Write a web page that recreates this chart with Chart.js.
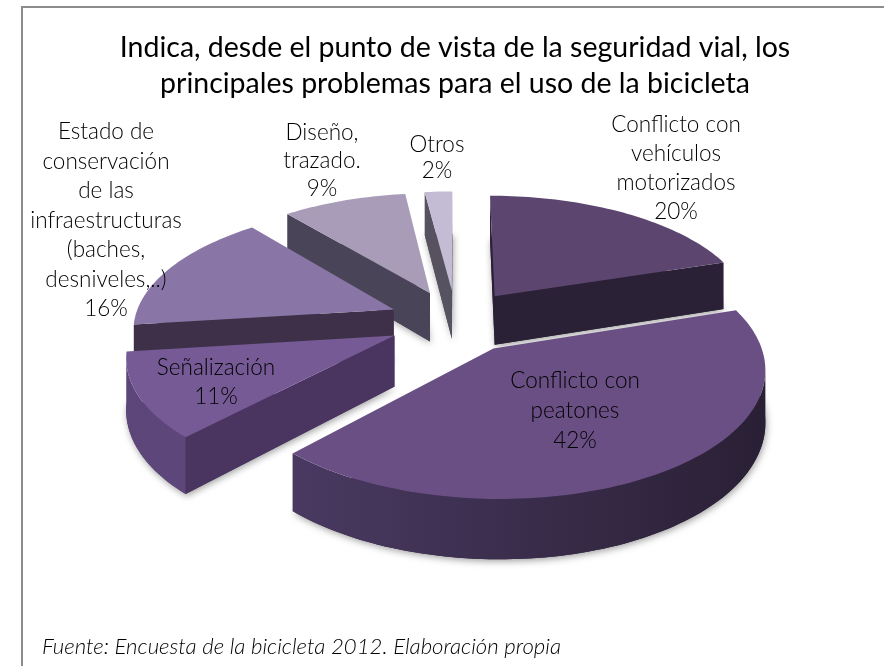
<!DOCTYPE html>
<html lang="es">
<head>
<meta charset="utf-8">
<title>Seguridad vial y bicicleta</title>
<style>
  html, body { margin: 0; padding: 0; background: #fff; }
  canvas { display: block; }
</style>
<script src="https://cdn.jsdelivr.net/npm/chart.js@4"></script>
</head>
<body>
<canvas id="pie" width="884" height="666"></canvas>
<script>
// Survey shares, clockwise from 12 o'clock
const categories = [
  ['Conflicto con', 'vehículos', 'motorizados'],
  ['Conflicto con', 'peatones'],
  ['Señalización'],
  ['Estado de', 'conservación', 'de las', 'infraestructuras', '(baches,', 'desniveles,..)'],
  ['Diseño,', 'trazado.'],
  ['Otros']
];
const values = [20, 42, 11, 16, 9, 2];

const titleLines = [
  'Indica, desde el punto de vista de la seguridad vial, los',
  'principales problemas para el uso de la bicicleta'
];
const sourceNote = 'Fuente: Encuesta de la bicicleta 2012. Elaboración propia';

// Slice colours
const topColors    = ['#5c4670', '#6a4f84', '#755a95', '#8a76a6', '#a89cb8', '#c4bcd4'];
const radialColors = ['#2a2136', '#2c2238', '#4a3560', '#3e3048', '#4a4458', '#57525f'];
const rimLeft      = ['#2a2136', '#4e3d68', '#5c4579', '#6b5a85', '#7a7088', '#8a8494'];
const rimRight     = ['#2a2136', '#2a2035', '#705688', '#6b5a85', '#7a7088', '#8a8494'];

// Label anchors: centre x and the y of the first text line
const labelX     = [676, 575, 216, 106, 322, 437];
const labelY     = [125, 381, 368, 132, 133, 145];
const labelStep  = [29, 30, 29, 29.5, 28, 26];

// Viewing model for the tilted pie
const view = { cx: 456, cy: 321, spreadX: 260, spreadY: 121, perspective: 0.14, depth: 50 };
const EXPLODE_PX = 60;
const LABEL_FONT = '300 22.5px Lato, sans-serif';

function project(wx, wy, level) {
  const d = 1 + view.perspective * wy;
  return {
    x: view.cx + view.spreadX * wx / d,
    y: view.cy - view.spreadY * wy / d + view.depth * level / d
  };
}

function fillPoly(ctx, pts, color) {
  ctx.beginPath();
  pts.forEach((p, i) => i ? ctx.lineTo(p.x, p.y) : ctx.moveTo(p.x, p.y));
  ctx.closePath();
  ctx.fillStyle = color;
  ctx.fill();
}

// A side wall shows when it hangs below its top edge, away from the slice interior
function hangsOutward(a, b, inside) {
  const ex = b.x - a.x, ey = b.y - a.y;
  const down = ex * 1;
  const interior = ex * (inside.y - a.y) - ey * (inside.x - a.x);
  return down * interior < 0;
}

// Turns each library arc into a solid wedge seen from above
function drawWedge(ctx, arc, i) {
  const R = arc.outerRadius;
  const start = arc.startAngle + Math.PI / 2;
  const end = arc.endAngle + Math.PI / 2;
  const mid = (start + end) / 2;
  const e = arc.options.offset / R;
  const ox = e * Math.sin(mid), oy = e * Math.cos(mid);
  const steps = Math.max(6, Math.ceil((end - start) * 40));

  const rim = [];
  for (let s = 0; s <= steps; s++) {
    const a = start + (end - start) * s / steps;
    rim.push({ wx: ox + Math.sin(a), wy: oy + Math.cos(a) });
  }
  const rimTop = rim.map(p => project(p.wx, p.wy, 0));
  const rimBottom = rim.map(p => project(p.wx, p.wy, 1));
  const apexTop = project(ox, oy, 0);
  const apexBottom = project(ox, oy, 1);

  // Footprint with a soft contact shadow
  ctx.save();
  ctx.shadowColor = 'rgba(0,0,0,0.38)';
  ctx.shadowBlur = 7;
  ctx.shadowOffsetX = 1;
  ctx.shadowOffsetY = 2;
  fillPoly(ctx, [apexBottom, ...rimBottom], radialColors[i]);
  ctx.restore();

  // Outer wall: only the stretch that faces the viewer
  const seen = [];
  for (let s = 0; s <= steps; s++) {
    const n = Math.min(s, steps - 1);
    if (hangsOutward(rimTop[n], rimTop[n + 1], apexTop)) seen.push(s);
  }
  if (seen.length > 1) {
    const left = project(ox - 1, oy, 0).x, right = project(ox + 1, oy, 0).x;
    const shade = ctx.createLinearGradient(left, 0, right, 0);
    shade.addColorStop(0, rimLeft[i]);
    shade.addColorStop(1, rimRight[i]);
    const upper = seen.map(s => rimTop[s]);
    const lower = seen.map(s => rimBottom[s]).reverse();
    fillPoly(ctx, [...upper, ...lower], shade);
  }

  // Radial walls that face the viewer
  [[rimTop[0], rimBottom[0], rimTop[steps]], [rimTop[steps], rimBottom[steps], rimTop[0]]].forEach(([t, b, other]) => {
    if (hangsOutward(apexTop, t, other)) {
      fillPoly(ctx, [apexTop, t, b, apexBottom], radialColors[i]);
    }
  });

  fillPoly(ctx, [apexTop, ...rimTop], topColors[i]);
}

const wedges3d = {
  id: 'wedges3d',
  beforeDatasetsDraw(chart) {
    const arcs = chart.getDatasetMeta(0).data;
    const order = arcs.map((arc, i) => i).sort((a, b) => {
      const mid = k => (arcs[k].startAngle + arcs[k].endAngle) / 2 + Math.PI / 2;
      return Math.cos(mid(b)) - Math.cos(mid(a));
    });
    order.forEach(i => drawWedge(chart.ctx, arcs[i], i));
    return false;
  },
  beforeDraw(chart) {
    const { ctx, width, height } = chart;
    ctx.save();
    ctx.fillStyle = '#fff';
    ctx.fillRect(0, 0, width, height);
    ctx.strokeStyle = '#8c8c8c';
    ctx.lineWidth = 2;
    ctx.beginPath();
    ctx.moveTo(22, height);
    ctx.lineTo(22, 7);
    ctx.lineTo(width, 7);
    ctx.stroke();
    ctx.restore();
  },
  afterDraw(chart) {
    const { ctx } = chart;
    ctx.save();
    ctx.font = LABEL_FONT;
    ctx.fillStyle = '#000';
    ctx.textAlign = 'center';
    ctx.textBaseline = 'middle';
    categories.forEach((lines, i) => {
      [...lines, values[i] + '%'].forEach((line, k) => {
        ctx.fillText(line, labelX[i], labelY[i] + k * labelStep[i]);
      });
    });
    ctx.restore();
  }
};

new Chart(document.getElementById('pie'), {
  type: 'pie',
  data: {
    labels: categories.map(lines => lines.join(' ')),
    datasets: [{
      data: values,
      backgroundColor: topColors,
      borderWidth: 0,
      offset: EXPLODE_PX
    }]
  },
  options: {
    responsive: false,
    animation: false,
    layout: { padding: { left: 42, right: 16, top: 0, bottom: 6 } },
    plugins: {
      legend: { display: false },
      tooltip: { enabled: false },
      title: {
        display: true,
        text: titleLines,
        color: '#000',
        font: { family: 'Lato, sans-serif', size: 28.5, weight: 'normal', lineHeight: 1.27 },
        padding: { top: 30, bottom: 10 }
      },
      subtitle: {
        display: true,
        position: 'bottom',
        align: 'start',
        text: sourceNote,
        color: '#000',
        font: { family: 'Lato, sans-serif', size: 22.2, style: 'italic', weight: '300' },
        padding: { top: 0, bottom: 0 }
      }
    }
  },
  plugins: [wedges3d]
});
</script>
</body>
</html>
